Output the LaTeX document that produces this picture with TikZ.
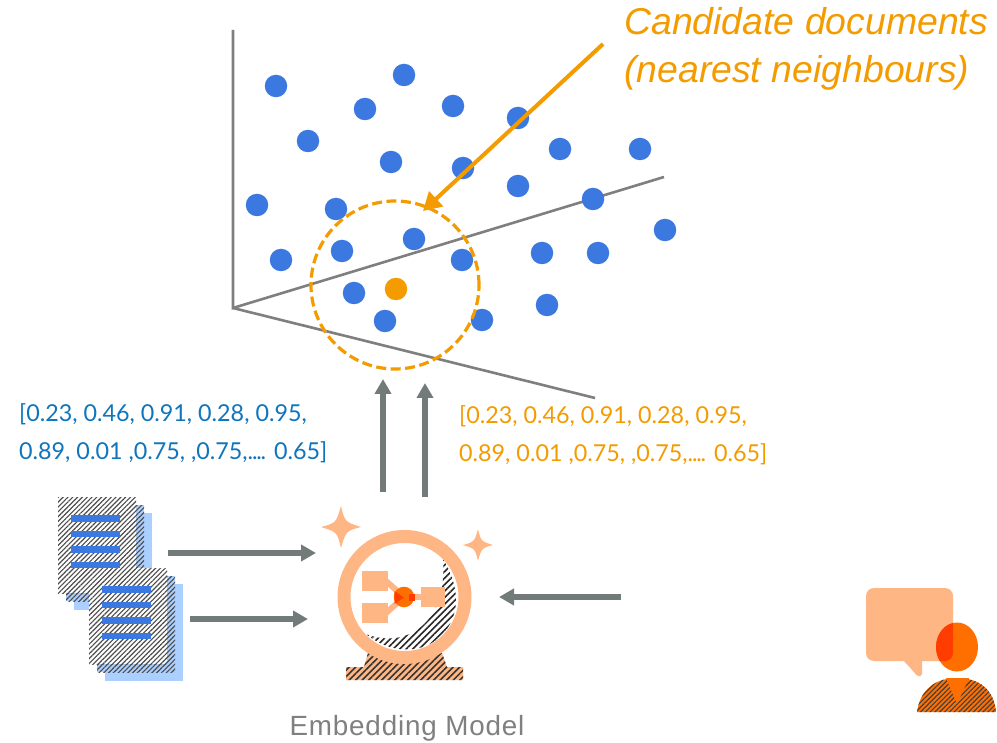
\documentclass[tikz,border=0pt]{standalone}
\usepackage{fontspec}
\setmainfont{Liberation Sans}
\newfontfamily\vecfont{Lato}
\newfontfamily\spacedfont[LetterSpace=3]{Liberation Sans}
\usetikzlibrary{patterns.meta,arrows.meta}
\definecolor{dotblue}{HTML}{3B78E0}
\definecolor{ora}{HTML}{F49B00}
\definecolor{peach}{HTML}{FFB685}
\definecolor{axisg}{HTML}{7F7F7F}
\definecolor{arrg}{HTML}{737B7A}
\definecolor{txtblue}{HTML}{0F75BC}
\definecolor{lblue}{HTML}{ABD0FF}
\definecolor{deep}{HTML}{FF6F00}
\definecolor{redo}{HTML}{FF3D00}
\tikzset{
  x=1pt,y=-1pt,
  dot/.style={circle,fill=dotblue,draw=none,minimum size=22.5pt,inner sep=0pt},
  axisline/.style={draw=axisg,line width=2.6pt},
  flow/.style={draw=arrg,line width=5.4pt,-{Triangle[length=15pt,width=16pt]}},
  hatch/.style={pattern={Lines[angle=45,distance=3.4pt,line width=1.15pt]},pattern color=#1},
  widehatch/.style={pattern={Lines[angle=45,distance=4.6pt,line width=1.5pt]},pattern color=#1},
  vec/.style={font=\vecfont\fontsize{23.3}{38.5}\selectfont,anchor=north west,align=left,inner sep=0pt},
  docline/.style={fill=dotblue,draw=none},
}
\newcommand{\tightdots}{.\kern-1.2pt.\kern-1.2pt.\kern-1.2pt.}
\newcommand{\docicon}[2]{%
  \begin{scope}[shift={(#1,#2)}]
    \fill[lblue] (16,16) rectangle (94,113);
    \fill[lblue] (8,8) rectangle (86,104);
    \fill[hatch=black!70] (8,8) rectangle (86,104);
    \fill[white] (0,0) rectangle (78,96);
    \fill[hatch=black!70] (0,0) rectangle (78,96);
    \fill[docline] (13,18) rectangle (62,24.5);
    \fill[docline] (13,33.5) rectangle (62,40);
    \fill[docline] (13,49) rectangle (62,55.5);
    \fill[docline] (13,64.5) rectangle (62,71);
  \end{scope}}
\newcommand{\sparkle}[3]{%
  \fill[peach] (#1-#3,#2) .. controls (#1-0.25*#3,#2-0.2*#3) .. (#1,#2-1.05*#3)
    .. controls (#1+0.2*#3,#2-0.25*#3) .. (#1+#3,#2)
    .. controls (#1+0.25*#3,#2+0.2*#3) .. (#1,#2+1.05*#3)
    .. controls (#1-0.2*#3,#2+0.25*#3) .. (#1-#3,#2) -- cycle;}
\begin{document}
\begin{tikzpicture}
\useasboundingbox (0,0) rectangle (997,743);
\fill[white] (0,0) rectangle (997,743);
% axes
\coordinate (origin) at (233,308);
\coordinate (ztop) at (233,30);
\coordinate (xend) at (664,177);
\coordinate (yend) at (595,398);
\draw[axisline] (ztop) -- (origin) -- (xend);
\draw[axisline] (origin) -- (yend);
% dots
\foreach \n/\px/\py in {a/276/86,b/404/75,c/365/109,d/453/106,e/518/118,f/308/141,g/391/162,h/463/168,i/560/149,j/640/149,k/518/186,l/593/199,m/257/205,n/336/209,o/665/230,p/414/239,q/342/251,r/281/260,s/462/260,t/542/253,u/598/253,v/354/293,w/385/321,x/482/320,y/547/305}
  \node[dot] (dot\n) at (\px,\py) {};
\node[dot,fill=ora] (query) at (396,289) {};
% neighbourhood
\node[circle,draw=ora,line width=3.2pt,dash pattern=on 10pt off 4.5pt,minimum size=168pt,inner sep=0pt] (hood) at (395,285) {};
\coordinate (candtail) at (603,44);
\coordinate (candtip) at (423,211);
\draw[draw=ora,line width=4pt,-{Triangle[length=18pt,width=20pt]}] (candtail) -- (candtip);
\node[anchor=north west,inner sep=0pt,align=left,text=ora,font=\itshape\fontsize{37.4}{48}\selectfont] (cand) at (624,7) {Candidate documents\\(nearest neighbours)};
% vectors
\node[vec,text=txtblue] (vecdoc) at (19,403) {[0.23, 0.46, 0.91, 0.28, 0.95,\\0.89, 0.01 ,0.75, ,0.75,\tightdots{} 0.65]};
\node[vec,text=ora] (vecq) at (459,405) {[0.23, 0.46, 0.91, 0.28, 0.95,\\0.89, 0.01 ,0.75, ,0.75,\tightdots{} 0.65]};
% vertical arrows
\coordinate (u1a) at (383,492); \coordinate (u1b) at (383,379);
\coordinate (u2a) at (425,497); \coordinate (u2b) at (425,383);
\draw[flow] (u1a) -- (u1b);
\draw[flow] (u2a) -- (u2b);
% documents
\docicon{58}{497}
\docicon{89}{568}
% horizontal arrows
\coordinate (h1a) at (168,553); \coordinate (h1b) at (316,553);
\coordinate (h2a) at (190,619); \coordinate (h2b) at (308,619);
\coordinate (h3a) at (621,597); \coordinate (h3b) at (499,597);
\draw[flow] (h1a) -- (h1b);
\draw[flow] (h2a) -- (h2b);
\draw[flow] (h3a) -- (h3b);
% model
\sparkle{341}{527}{20}
\sparkle{478}{545}{15}
\fill[peach] (368,653) -- (442,653) -- (447,667) -- (463,667) -- (463,680) -- (346,680) -- (346,667) -- (364,667) -- cycle;
\fill[widehatch=black!80] (368,653) -- (442,653) -- (447,667) -- (463,667) -- (463,680) -- (346,680) -- (346,667) -- (364,667) -- cycle;
\fill[widehatch=black!85] (443,559) .. controls (462,590) and (462,625) .. (430,644) .. controls (410,654) and (385,650) .. (366,634)
  .. controls (400,648) and (448,630) .. (443,559) -- cycle;
\draw[peach,line width=13pt] (404.5,597) circle[radius=60.5];
\draw[peach,line width=6pt] (386,581) -- (404,597) -- (386,613);
\draw[peach,line width=6pt] (404,597) -- (421,597);
\fill[peach] (362,571) rectangle (388,591);
\fill[peach] (362,603) rectangle (388,623);
\fill[peach] (421,587) rectangle (445,607);
\fill[deep] (404,597) circle[radius=10.3];
\fill[redo] (394.5,591) -- (404,597.5) -- (394.5,604) -- cycle;
\fill[redo] (409,593.5) rectangle (415,601);
\node[anchor=base,inner sep=0pt,text=black!50,font=\spacedfont\fontsize{27.8}{30}\selectfont] (modelname) at (407,735) {Embedding Model};
% person
\fill[peach,rounded corners=8pt] (866,588) rectangle (953,661);
\fill[peach] (903,660) -- (917,675.5) .. controls (919,677) and (922,676.5) .. (922,674) -- (922,660) -- cycle;
\fill[deep] (957,647) ellipse[x radius=21,y radius=24.5];
\begin{scope}
  \clip[rounded corners=8pt] (866,588) rectangle (953,661);
  \fill[redo] (957,647) ellipse[x radius=21,y radius=24.5];
\end{scope}
\fill[deep] (917,712) .. controls (920,690) and (935,678) .. (957,678) .. controls (980,678) and (994,690) .. (996,712) -- cycle;
\fill[hatch=black!75] (917,712) .. controls (920,690) and (935,678) .. (957,678) .. controls (980,678) and (994,690) .. (996,712) -- cycle;
\fill[deep] (946,678) -- (969,678) -- (957,704) -- cycle;
\end{tikzpicture}
\end{document}
